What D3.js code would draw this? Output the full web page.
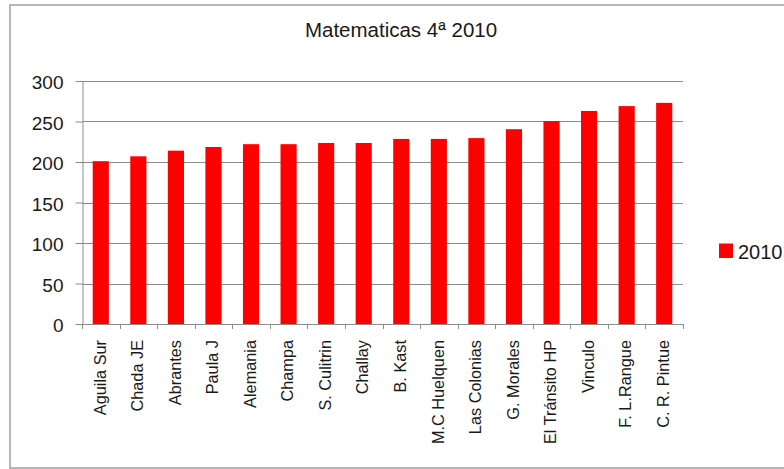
<!DOCTYPE html>
<html>
<head>
<meta charset="utf-8">
<script src="https://cdn.jsdelivr.net/npm/d3@7"></script>
<style>
  html, body { margin: 0; padding: 0; background: #fff; }
  svg { display: block; font-family: "Liberation Sans", Arial, sans-serif; }
</style>
</head>
<body>
<svg id="chart" width="784" height="469"></svg>
<script>
const categories = ["Aguila Sur", "Chada JE", "Abrantes", "Paula J", "Alemania", "Champa", "S. Culitrin", "Challay", "B. Kast", "M.C Huelquen", "Las Colonias", "G. Morales", "El Tránsito HP", "Vinculo", "F. L.Rangue", "C. R. Pintue"];
const values2010 = [201, 207, 214, 218.5, 222, 222, 223.5, 223.5, 228.5, 228.5, 229.5, 240.5, 250.5, 263, 269, 273];
const yTicks = [0, 50, 100, 150, 200, 250, 300];
const seriesName = "2010";
const titleText = "Matematicas 4ª 2010";

const svg = d3.select("#chart");
const W = 784, H = 469;
const plot = { left: 82, right: 683, top: 81, bottom: 324 };
const gridColor = "#8c8c8c";
const barColor = "#ff0000";
const textColor = "#1a1a1a";

// chart border
svg.append("rect")
  .attr("x", 10).attr("y", 5)
  .attr("width", 800).attr("height", 463)
  .attr("fill", "none").attr("stroke", "#a6a6a6").attr("stroke-width", 1.6);

// title
svg.append("text")
  .attr("x", 401).attr("y", 37)
  .attr("text-anchor", "middle")
  .attr("font-size", "20.5px")
  .attr("fill", textColor)
  .text(titleText);

const x = d3.scaleBand()
  .domain(categories)
  .range([plot.left, plot.right])
  .paddingInner(0.57)
  .paddingOuter(0.285);

const y = d3.scaleLinear()
  .domain([0, 300])
  .range([plot.bottom, plot.top]);

// gridlines
svg.append("g").selectAll("line")
  .data(yTicks.filter(d => d > 0))
  .join("line")
  .attr("x1", plot.left).attr("x2", plot.right)
  .attr("y1", d => Math.round(y(d)) + 0.5).attr("y2", d => Math.round(y(d)) + 0.5)
  .attr("stroke", gridColor).attr("stroke-width", 1);

// y axis
const yAxis = svg.append("g")
  .attr("transform", `translate(${plot.left + 0.5},0)`)
  .call(d3.axisLeft(y).tickValues(yTicks).tickSize(7).tickPadding(12).tickSizeOuter(0));
yAxis.select(".domain").attr("stroke", gridColor);
yAxis.selectAll(".tick line").attr("stroke", gridColor);
yAxis.selectAll(".tick text")
  .attr("font-size", "19px")
  .attr("font-family", "Liberation Sans, Arial, sans-serif")
  .attr("fill", textColor)
  .attr("dy", "0.4em");

// bars
svg.append("g").selectAll("rect")
  .data(categories.map((c, i) => ({ c, v: values2010[i] })))
  .join("rect")
  .attr("x", d => x(d.c))
  .attr("width", x.bandwidth())
  .attr("y", d => y(d.v))
  .attr("height", d => y(0) - y(d.v))
  .attr("fill", barColor);

// x axis line
svg.append("line")
  .attr("x1", plot.left).attr("x2", plot.right)
  .attr("y1", plot.bottom + 0.5).attr("y2", plot.bottom + 0.5)
  .attr("stroke", gridColor);

// x tick marks at band boundaries
const step = x.step();
const boundaries = d3.range(categories.length + 1).map(i => x(categories[0]) - step * x.paddingInner() / 2 + i * step);
svg.append("g").selectAll("line")
  .data(boundaries)
  .join("line")
  .attr("x1", d => Math.round(d) + 0.5).attr("x2", d => Math.round(d) + 0.5)
  .attr("y1", plot.bottom).attr("y2", plot.bottom + 5)
  .attr("stroke", gridColor);

// category labels
svg.append("g").selectAll("text")
  .data(categories)
  .join("text")
  .attr("transform", d => `translate(${x(d) + x.bandwidth() / 2 - 1},${plot.bottom + 16}) rotate(-90)`)
  .attr("text-anchor", "end")
  .attr("dy", "0.35em")
  .attr("font-size", "16.3px")
  .attr("fill", textColor)
  .text(d => d);

// legend
const lg = svg.append("g");
lg.append("rect")
  .attr("x", 719).attr("y", 243.5)
  .attr("width", 14).attr("height", 14.5)
  .attr("fill", barColor);
lg.append("text")
  .attr("x", 738).attr("y", 258.5)
  .attr("font-size", "20px")
  .attr("fill", textColor)
  .text(seriesName);
</script>
</body>
</html>
